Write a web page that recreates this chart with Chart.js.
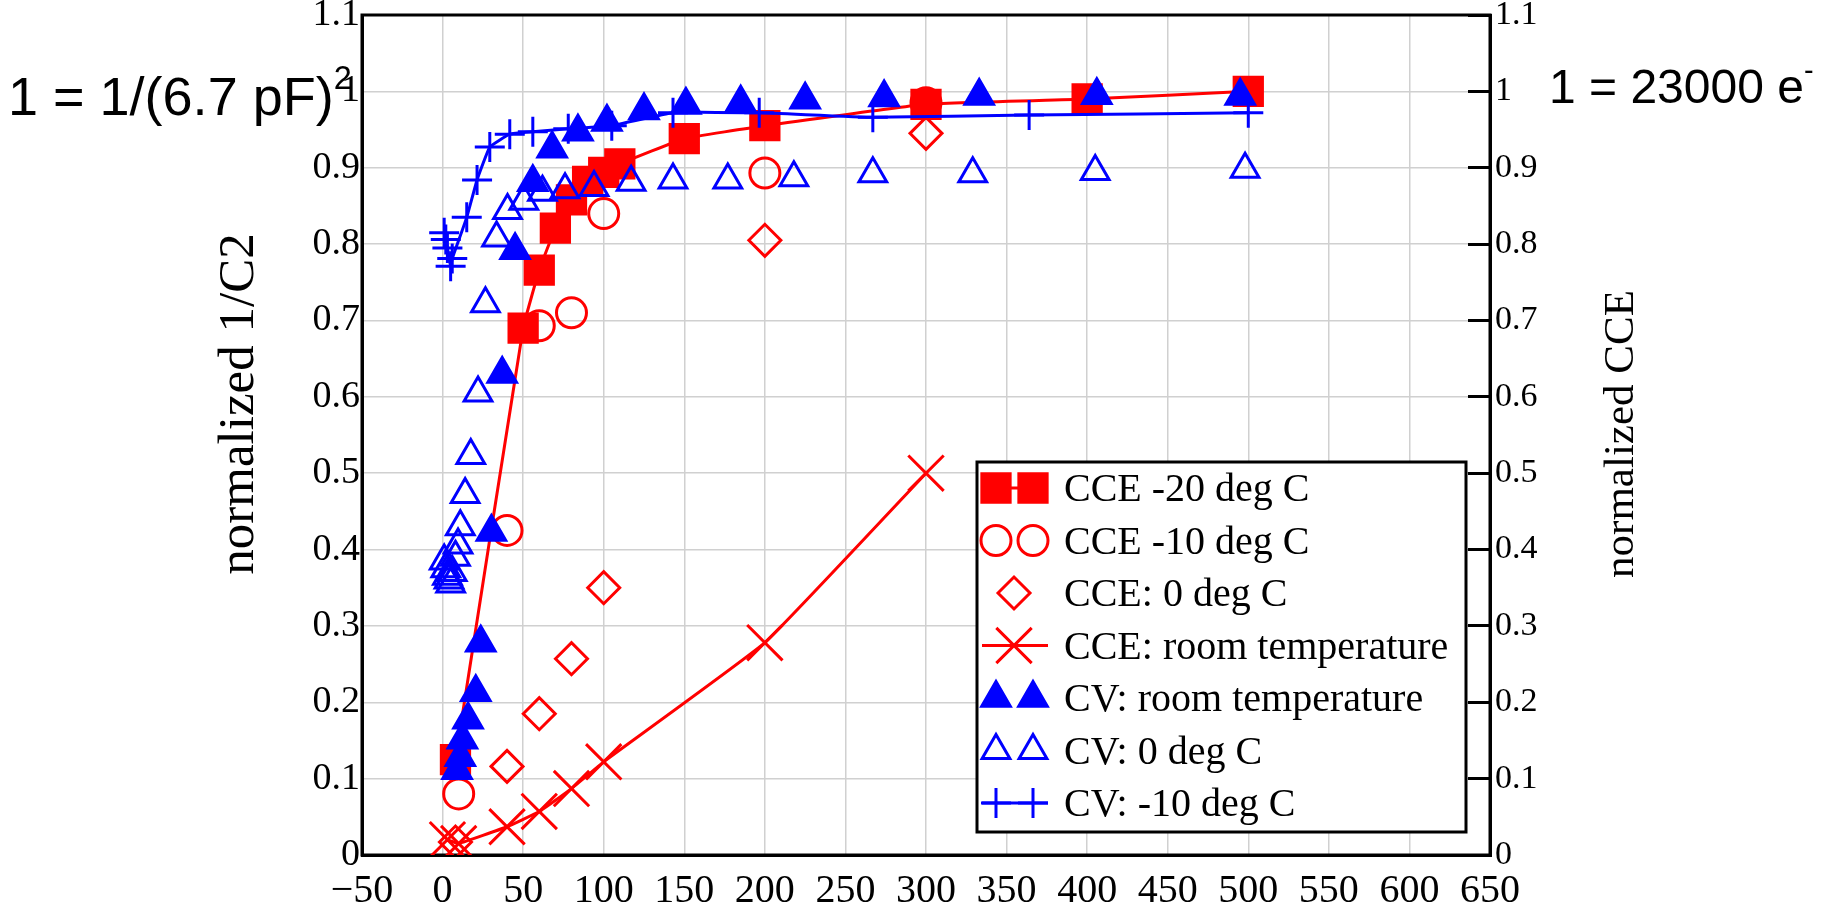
<!DOCTYPE html>
<html>
<head>
<meta charset="utf-8">
<title>normalized CCE and 1/C2</title>
<script src="https://cdn.jsdelivr.net/npm/chart.js@4.4.1/dist/chart.umd.min.js"></script>
<style>
  html, body { margin: 0; padding: 0; background: #fff; }
  #wrap { position: relative; width: 1825px; height: 903px; }
  .note {
    position: absolute;
    font-family: 'Liberation Sans', Arial, sans-serif;
    line-height: 1;
    color: #000;
    white-space: nowrap;
  }
  .note sup { font-size: 60%; vertical-align: 0; position: relative; top: -0.8em; }
</style>
</head>
<body>
<div id="wrap">
  <canvas id="chart" width="1825" height="903"></canvas>
  <div class="note" style="left: 8px; top: 69px; font-size: 54px;">1 = 1/(6.7 pF)<sup>2</sup></div>
  <div class="note" style="left: 1549px; top: 63px; font-size: 48px;">1 = 23000 e<sup>-</sup></div>
</div>
<script>
// bias voltage (x) and normalized values (y)
const cce20X = [8, 50, 60, 70, 80, 90, 100, 110, 150, 200, 300, 400, 500];
const cce20Y = [0.125, 0.69, 0.766, 0.821, 0.858, 0.882, 0.894, 0.905, 0.938, 0.955, 0.983, 0.99, 1.0];

const cce10X = [10, 40, 60, 80, 100, 200, 300];
const cce10Y = [0.08, 0.425, 0.693, 0.71, 0.84, 0.893, 0.985];

const cce0X = [8, 40, 60, 80, 100, 200, 300];
const cce0Y = [0.017, 0.116, 0.185, 0.257, 0.35, 0.805, 0.945];

const cceRoomX = [3, 10, 40, 60, 80, 100, 200, 300];
const cceRoomY = [0.02, 0.015, 0.037, 0.057, 0.087, 0.122, 0.278, 0.5];

const cvRoomX = [9, 11, 12.3, 15.8, 20.6, 23.7, 30.3, 37, 45, 56, 68, 84, 102, 125, 151, 185, 225, 274, 333, 406, 495];
const cvRoomY = [0.111, 0.128, 0.151, 0.177, 0.213, 0.278, 0.423, 0.63, 0.792, 0.881, 0.925, 0.947, 0.96, 0.975, 0.982, 0.985, 0.989, 0.992, 0.994, 0.995, 0.994];

const cv0X = [1, 2, 3, 4, 5, 6, 8, 9.6, 11, 14, 17.5, 22, 26.6, 33.5, 40.3, 50.4, 62, 76, 94, 117, 143, 177, 218, 267, 329, 405, 498];
const cv0Y = [0.385, 0.375, 0.365, 0.36, 0.355, 0.37, 0.39, 0.406, 0.43, 0.472, 0.523, 0.605, 0.722, 0.808, 0.844, 0.856, 0.868, 0.871, 0.874, 0.881, 0.884, 0.884, 0.887, 0.892, 0.892, 0.895, 0.898];

const cv10X = [1, 2, 3, 5, 6, 15, 21.4, 29.3, 41.7, 56, 78, 105, 143, 196.5, 267, 364, 500];
const cv10Y = [0.815, 0.806, 0.795, 0.771, 0.781, 0.835, 0.884, 0.927, 0.944, 0.947, 0.951, 0.955, 0.972, 0.972, 0.966, 0.969, 0.972];

const seriesLabels = [
    'CCE -20 deg C',
    'CCE -10 deg C',
    'CCE: 0 deg C',
    'CCE: room temperature',
    'CV: room temperature',
    'CV: 0 deg C',
    'CV: -10 deg C'
];

const RED = '#ff0000';
const BLUE = '#0000ff';
const SERIF = "'Liberation Serif', 'Times New Roman', serif";

function pts(xs, ys) {
    return xs.map((x, i) => ({ x: x, y: ys[i] }));
}

// helper for the dataset look
function series(label, xs, ys, color, style, radius, filled, line, order) {
    return {
        label: label,
        data: pts(xs, ys),
        showLine: line,
        borderColor: color,
        borderWidth: 3,
        tension: 0.1,
        pointStyle: style,
        pointRadius: radius,
        pointHoverRadius: radius,
        pointBorderWidth: 3,
        pointBorderColor: color,
        pointBackgroundColor: filled ? color : 'rgba(0,0,0,0)',
        order: order,
        legendTwo: style !== 'rectRot' && style !== 'crossRot'
    };
}

const datasets = [
    series(seriesLabels[0], cce20X, cce20Y, RED, 'rect', 20, true, true, 1),
    series(seriesLabels[1], cce10X, cce10Y, RED, 'circle', 15, false, false, 1),
    series(seriesLabels[2], cce0X, cce0Y, RED, 'rectRot', 16, false, false, 1),
    series(seriesLabels[3], cceRoomX, cceRoomY, RED, 'crossRot', 25, false, true, 1),
    series(seriesLabels[4], cvRoomX, cvRoomY, BLUE, 'triangle', 16.5, true, false, 0),
    series(seriesLabels[5], cv0X, cv0Y, BLUE, 'triangle', 16, false, false, 0),
    series(seriesLabels[6], cv10X, cv10Y, BLUE, 'cross', 15, false, true, 0)
];

// plot frame (top edge is not an axis)
const framePlugin = {
    id: 'frame',
    beforeDatasetsDraw(chart) {
        const a = chart.chartArea;
        const ctx = chart.ctx;
        ctx.save();
        ctx.strokeStyle = '#000';
        ctx.lineWidth = 3;
        ctx.strokeRect(a.left, a.top, a.right - a.left, a.bottom - a.top);
        ctx.restore();
    }
};

// both axis titles read bottom-to-top
function sideTitle(ctx, text, x, y, size) {
    ctx.save();
    ctx.translate(x, y);
    ctx.rotate(-Math.PI / 2);
    ctx.font = size + 'px ' + SERIF;
    ctx.fillStyle = '#000';
    ctx.textAlign = 'center';
    ctx.textBaseline = 'middle';
    ctx.fillText(text, 0, 0);
    ctx.restore();
}

const axisTitlePlugin = {
    id: 'axisTitles',
    afterDraw(chart) {
        sideTitle(chart.ctx, 'normalized 1/C2', 240, 404, 51);
        sideTitle(chart.ctx, 'normalized CCE', 1622, 434, 43);
    }
};

// boxed legend with two markers per entry
const boxLegendPlugin = {
    id: 'boxLegend',
    afterDraw(chart) {
        const ctx = chart.ctx;
        const box = { left: 977, top: 462, right: 1466, bottom: 832 };
        ctx.save();
        ctx.fillStyle = '#fff';
        ctx.fillRect(box.left, box.top, box.right - box.left, box.bottom - box.top);
        ctx.strokeStyle = '#000';
        ctx.lineWidth = 3;
        ctx.strokeRect(box.left, box.top, box.right - box.left, box.bottom - box.top);

        chart.data.datasets.forEach((ds, i) => {
            const y = 488 + i * 52.5;
            ctx.strokeStyle = ds.borderColor;
            if (ds.showLine) {
                ctx.lineWidth = 3;
                ctx.beginPath();
                ctx.moveTo(982, y);
                ctx.lineTo(1048, y);
                ctx.stroke();
            }
            ctx.lineWidth = ds.pointBorderWidth;
            ctx.fillStyle = ds.pointBackgroundColor;
            const opts = { pointStyle: ds.pointStyle, radius: ds.pointRadius, rotation: 0, borderWidth: ds.pointBorderWidth };
            const xs = ds.legendTwo ? [996, 1033] : [1014];
            xs.forEach(x => Chart.helpers.drawPoint(ctx, opts, x, y));

            ctx.fillStyle = '#000';
            ctx.font = '40px ' + SERIF;
            ctx.textAlign = 'left';
            ctx.textBaseline = 'alphabetic';
            ctx.fillText(ds.label, 1064, y + 13);
        });
        ctx.restore();
    }
};

function fmt(v) {
    return String(Number(v.toFixed(1))).replace('-', '\u2212');
}

// keep the plot box fixed: no extra room for the end labels
function fixBox(w, h) {
    return s => {
        if (w) s.width = w;
        if (h) s.height = h;
        s.paddingTop = 0;
        s.paddingBottom = 0;
        s.paddingLeft = 0;
        s.paddingRight = 0;
    };
}

new Chart(document.getElementById('chart'), {
    type: 'scatter',
    data: { datasets: datasets },
    options: {
        responsive: false,
        animation: false,
        layout: { autoPadding: false, padding: { top: 15, left: 0, right: 0, bottom: 0 } },
        plugins: {
            legend: { display: false },
            tooltip: { enabled: false }
        },
        scales: {
            x: {
                type: 'linear',
                min: -50,
                max: 650,
                ticks: {
                    stepSize: 50,
                    color: '#000',
                    padding: 12,
                    font: { family: SERIF, size: 40 },
                    callback: v => fmt(v)
                },
                grid: { color: '#d0d0d0', lineWidth: 1.5, drawTicks: false },
                border: { color: '#000', width: 3 },
                afterFit: fixBox(0, 48)
            },
            y: {
                position: 'left',
                min: 0,
                max: 1.1,
                ticks: {
                    stepSize: 0.1,
                    color: '#000',
                    padding: 2,
                    font: { family: SERIF, size: 38 },
                    callback: v => fmt(v)
                },
                grid: { color: '#d0d0d0', lineWidth: 1.5, drawTicks: false },
                border: { color: '#000', width: 3 },
                afterFit: fixBox(362, 0)
            },
            y1: {
                position: 'right',
                min: 0,
                max: 1.1,
                ticks: {
                    stepSize: 0.1,
                    color: '#000',
                    padding: 27,
                    font: { family: SERIF, size: 34 },
                    callback: v => fmt(v)
                },
                grid: { drawOnChartArea: false, drawTicks: true, tickLength: -22, tickWidth: 3, tickColor: '#000' },
                border: { color: '#000', width: 3 },
                afterFit: fixBox(335, 0)
            }
        }
    },
    plugins: [framePlugin, axisTitlePlugin, boxLegendPlugin]
});
</script>
</body>
</html>
